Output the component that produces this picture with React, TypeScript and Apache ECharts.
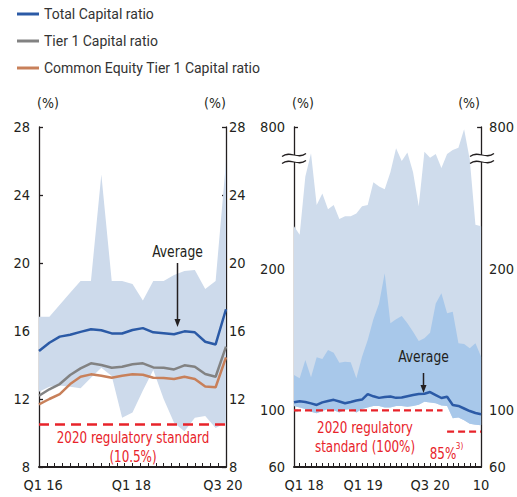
import React, { useEffect, useRef } from 'react';
import * as echarts from 'echarts';

// ---------- Left panel: bank capital ratios (quarterly, Q1 16 – Q3 20) ----------
const quarters = [
  'Q1 16', 'Q2 16', 'Q3 16', 'Q4 16', 'Q1 17', 'Q2 17', 'Q3 17', 'Q4 17',
  'Q1 18', 'Q2 18', 'Q3 18', 'Q4 18', 'Q1 19', 'Q2 19', 'Q3 19', 'Q4 19',
  'Q1 20', 'Q2 20', 'Q3 20',
];
const totalCapital = [14.82, 15.31, 15.67, 15.78, 15.95, 16.1, 16.04, 15.86, 15.85, 16.06, 16.17, 15.92, 15.87, 15.81, 15.98, 15.92, 15.37, 15.21, 17.28];
const tier1Capital = [12.19, 12.57, 12.88, 13.41, 13.8, 14.1, 14.0, 13.84, 13.9, 14.04, 14.1, 13.86, 13.84, 13.74, 13.98, 13.9, 13.47, 13.31, 15.08];
const cet1Capital = [11.69, 12.0, 12.29, 12.88, 13.31, 13.45, 13.37, 13.25, 13.37, 13.45, 13.43, 13.25, 13.24, 13.18, 13.31, 13.18, 12.73, 12.69, 14.45];
const totalRangeMax = [16.84, 16.84, 17.55, 18.25, 18.94, 18.94, 25.2, 18.94, 18.94, 18.76, 17.8, 18.94, 18.94, 19.3, 19.53, 19.59, 18.47, 18.94, 25.94];
const totalRangeMin = [12.43, 12.72, 12.8, 12.72, 12.63, 13.25, 13.84, 13.35, 10.9, 11.2, 12.5, 13.7, 12.0, 10.6, 10.1, 10.9, 11.0, 10.3, 10.6];
const capitalStandard = 10.5;
const leftTickLabels = ['Q1 16', 'Q1 18', 'Q3 20'];

// ---------- Right panel: LCR (monthly, Jan 18 – Oct 20) ----------
const months = Array.from({ length: 34 }, (_, i) => {
  const y = 2018 + Math.floor(i / 12);
  const m = (i % 12) + 1;
  return `${y}-${String(m).padStart(2, '0')}`;
});
const lcrMax = [230, 224, 265, 359, 245, 253, 242, 245, 235, 237, 237, 239, 244, 245, 261, 258, 256, 268, 444, 276, 375, 268, 244, 387, 285, 347, 271, 347, 416, 454, 762, 277, 231, 230];
const lcrUpper = [124.9, 122.6, 135.5, 123.3, 137.4, 136.2, 142.6, 140.7, 133.6, 134.3, 133.9, 122.6, 137.9, 149.6, 164.3, 175.5, 196.7, 161.4, 164.3, 166.6, 161.4, 155.5, 148.9, 150.8, 154.8, 175.5, 182.6, 168.5, 169.6, 147.3, 146.8, 143.8, 147.3, 137.9];
const lcrMin = [103, 102, 101, 99, 98, 99.5, 101, 100, 98.5, 100.5, 101, 98.5, 101, 102, 103, 103, 102, 102, 103, 103, 102.5, 103, 104, 106, 105.5, 105, 103.5, 103, 94.5, 95, 93, 90.5, 89.8, 89.5];
const lcrAverage = [105.7, 106.4, 105.9, 104.9, 103.8, 105.6, 106.6, 107.4, 106.2, 105.0, 105.9, 106.9, 107.6, 111.5, 109.9, 108.8, 109.4, 109.8, 108.8, 109.1, 110.0, 110.8, 111.5, 111.7, 112.9, 110.8, 108.7, 109.6, 103.8, 103.1, 101.3, 99.5, 98.1, 97.2];
const lcrStandard = 100;
const lcrEased = 85;
const lcrStandardSpan = [0, 26.2];
const lcrEasedSpan = [27, 33];
const rightTickLabels = ['Q1 18', 'Q1 19', 'Q3 20', '10'];
const rightYTicks = [60, 100, 200, 800];

// broken axis: values above BRK are compressed so that TOP_REAL sits at the top
const BRK = 278;
const TOP_REAL = 800;
const TOP_DISP = 300;
const disp = (v: number) => (v <= BRK ? v : BRK + ((v - BRK) * (TOP_DISP - BRK)) / (TOP_REAL - BRK));

const NARROW = "'Liberation Sans Narrow', 'DejaVu Sans Condensed', 'Roboto', sans-serif";
const RED = '#e8232a';
const INK = '#231f20';
const AX_FONT = 14.5;

function band(xi: number, yi: number, upper: number[], lower: number[], fill: string, z: number) {
  return {
    type: 'custom',
    xAxisIndex: xi,
    yAxisIndex: yi,
    silent: true,
    clip: true,
    z,
    data: [[0, lower[0]]],
    renderItem: (_p: any, api: any) => {
      const pts: number[][] = [];
      upper.forEach((v, i) => pts.push(api.coord([i, v])));
      for (let i = lower.length - 1; i >= 0; i--) pts.push(api.coord([i, lower[i]]));
      return { type: 'polygon', shape: { points: pts }, style: { fill } };
    },
  };
}

function lineSeries(name: string, xi: number, yi: number, vals: number[], color: string) {
  return {
    name,
    type: 'line',
    xAxisIndex: xi,
    yAxisIndex: yi,
    data: vals.map((v, i) => [i, v]),
    showSymbol: false,
    symbol: 'none',
    lineStyle: { color, width: 2.5 },
    itemStyle: { color },
    z: 5,
    silent: true,
  };
}

function dashed(xi: number, yi: number, span: number[], v: number, dash: number[], width: number) {
  return {
    type: 'line',
    xAxisIndex: xi,
    yAxisIndex: yi,
    data: span.map((x) => [x, v]),
    showSymbol: false,
    symbol: 'none',
    lineStyle: { color: RED, width, type: dash },
    z: 6,
    silent: true,
  };
}

function yAx(grid: number, pos: 'left' | 'right', namePad: number[], extra: any) {
  return {
    type: 'value',
    gridIndex: grid,
    position: pos,
    name: '(%)',
    nameLocation: 'end',
    nameGap: 17,
    nameTextStyle: { fontFamily: NARROW, fontSize: 14, color: INK, padding: namePad },
    axisLine: { show: true, lineStyle: { color: INK, width: 1.3 } },
    axisTick: { show: true, inside: true, length: 4, lineStyle: { color: INK, width: 1.3 } },
    splitLine: { show: false },
    ...extra,
  };
}

function xAx(grid: number, max: number, interval: number, at: number[], labels: string[]) {
  return {
    type: 'value',
    gridIndex: grid,
    min: 0,
    max,
    interval,
    axisLine: { show: true, lineStyle: { color: INK, width: 2 } },
    axisTick: { show: true, inside: true, length: 4, lineStyle: { color: INK, width: 1 } },
    splitLine: { show: false },
    axisLabel: {
      customValues: at,
      formatter: (v: number) => {
        const k = at.findIndex((p) => Math.abs(p - v) < 1e-6);
        return k >= 0 ? labels[k] : '';
      },
      fontFamily: NARROW,
      fontSize: AX_FONT,
      color: INK,
      margin: 10,
    },
  };
}

function tilde(x: number, y: number, w: number) {
  return {
    type: 'bezierCurve',
    z: 101,
    shape: { x1: x, y1: y + 1.5, cpx1: x + w * 0.35, cpy1: y - 5, cpx2: x + w * 0.65, cpy2: y + 5, x2: x + w, y2: y - 1.5 },
    style: { stroke: INK, lineWidth: 1.2, fill: null },
  };
}

function breakMark(x: number) {
  return [
    { type: 'rect', z: 100, shape: { x: x - 4, y: 155, width: 8, height: 7 }, style: { fill: '#fff' } },
    tilde(x - 12, 155, 24),
    tilde(x - 12, 162, 24),
  ];
}

function arrow(x: number, y1: number, y2: number) {
  return [
    { type: 'line', z: 100, shape: { x1: x, y1, x2: x, y2: y2 - 6 }, style: { stroke: INK, lineWidth: 1.5 } },
    { type: 'polygon', z: 100, shape: { points: [[x - 3, y2 - 8], [x + 3, y2 - 8], [x, y2]] }, style: { fill: INK } },
  ];
}

function txt(text: string, x: number, y: number, fill: string, size: number, sx = 0.84) {
  return {
    type: 'text',
    z: 100,
    x,
    y,
    scaleX: sx,
    style: { text, fill, fontFamily: NARROW, fontSize: size, align: 'center', verticalAlign: 'middle' },
  };
}

function yLabelFmt(dispTicks: number[]) {
  return (v: number) => {
    const k = dispTicks.findIndex((p) => Math.abs(p - v) < 1e-6);
    return k >= 0 ? String(rightYTicks[k]) : '';
  };
}

export default function App() {
  const ref = useRef<HTMLDivElement>(null);
  useEffect(() => {
    document.body.style.margin = '0';
    if (!ref.current) return;
    const chart = echarts.init(ref.current, null, { renderer: 'svg' });
    const leftAt = [0.4, 8.9, 17.7];
    const rightAt = [1.8, 12.2, 24, 33];
    const rd = rightYTicks.map(disp);
    const yLab = (margin: number, extra: any = {}) => ({ fontFamily: NARROW, fontSize: AX_FONT, color: INK, margin, ...extra });
    const rTick = { show: true, inside: true, length: 4, customValues: rd.slice(1), lineStyle: { color: INK, width: 1.3 } };
    const option: any = {
      animation: false,
      backgroundColor: '#fff',
      legend: {
        orient: 'vertical',
        left: 12,
        top: 1,
        itemWidth: 22,
        itemHeight: 3,
        itemGap: 11,
        icon: 'rect',
        data: ['Total Capital ratio', 'Tier 1 Capital ratio', 'Common Equity Tier 1 Capital ratio'],
        textStyle: { fontFamily: "'Roboto', 'Noto Sans', sans-serif", fontSize: 14, color: '#333', lineHeight: 16 },
        selectedMode: false,
      },
      grid: [
        { left: 39, top: 127, width: 187, height: 340 },
        { left: 294, top: 127, width: 188, height: 340 },
      ],
      xAxis: [
        xAx(0, quarters.length - 1, 0.75, leftAt, leftTickLabels),
        xAx(1, months.length - 1, 1, rightAt, rightTickLabels),
      ],
      yAxis: [
        yAx(0, 'left', [0, 0, 0, 18], { min: 8, max: 28, interval: 4, axisLabel: yLab(9) }),
        yAx(0, 'right', [0, 22, 0, 0], { min: 8, max: 28, interval: 4, axisLabel: yLab(3) }),
        yAx(1, 'left', [0, 0, 0, 18], { min: 60, max: TOP_DISP, interval: 20, axisTick: rTick, axisLabel: yLab(9, { customValues: rd, formatter: yLabelFmt(rd) }) }),
        yAx(1, 'right', [0, 24, 0, 0], { min: 60, max: TOP_DISP, interval: 20, axisTick: rTick, axisLabel: yLab(8, { customValues: rd, formatter: yLabelFmt(rd) }) }),
      ],
      series: [
        band(0, 0, totalRangeMax, totalRangeMin, '#cddaeb', 1),
        dashed(0, 0, [0, quarters.length - 1], capitalStandard, [10, 6], 2.5),
        lineSeries('Total Capital ratio', 0, 0, totalCapital, '#2b5aa6'),
        lineSeries('Tier 1 Capital ratio', 0, 0, tier1Capital, '#828282'),
        lineSeries('Common Equity Tier 1 Capital ratio', 0, 0, cet1Capital, '#c8805a'),
        band(1, 2, lcrMax.map(disp), lcrMin, '#cfdcec', 1),
        band(1, 2, lcrUpper, lcrMin, '#a8c8ea', 2),
        dashed(1, 2, lcrStandardSpan, lcrStandard, [7, 4], 2.2),
        dashed(1, 2, lcrEasedSpan, lcrEased, [7, 4], 2.2),
        lineSeries('LCR average', 1, 2, lcrAverage, '#2b5aa6'),
      ],
      graphic: [
        txt('Average', 177.5, 252, INK, 16, 0.86),
        ...arrow(177.5, 263, 327),
        txt('Average', 423.5, 357, INK, 16, 0.86),
        ...arrow(423.5, 373, 393),
        txt('2020 regulatory standard', 133, 437, RED, 16, 0.83),
        txt('(10.5%)', 133, 456, RED, 16, 0.83),
        txt('2020 regulatory', 365, 427, RED, 16, 0.83),
        txt('standard (100%)', 365, 446, RED, 16, 0.83),
        txt('85%', 443, 453, RED, 16, 0.83),
        txt('3)', 459.5, 446, RED, 9, 0.9),
        ...breakMark(294),
        ...breakMark(482),
      ],
    };
    chart.setOption(option);
    return () => chart.dispose();
  }, []);
  return <div ref={ref} style={{ width: 517, height: 497 }} />;
}
